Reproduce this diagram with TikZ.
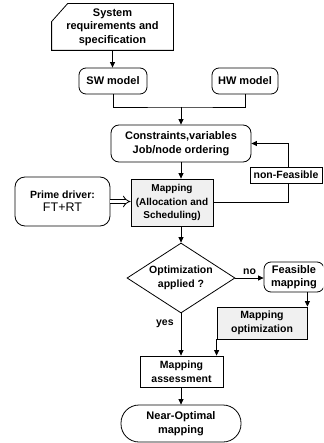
\documentclass[tikz,border=0pt]{standalone}
\usepackage{fontspec}
\setmainfont{Liberation Sans}
\usetikzlibrary{arrows.meta,shapes.geometric,calc}
\begin{document}
\begin{tikzpicture}[x=1pt,y=-1pt,
  line width=0.8pt,
  txt/.style={align=center,font=\bfseries\fontsize{11}{13.5}\selectfont,inner sep=0pt},
  stxt/.style={align=center,font=\bfseries\fontsize{10.5}{13.5}\selectfont,inner sep=0pt},
  rbox/.style={txt,draw,rounded corners=7pt},
  sbox/.style={stxt,draw},
  gbox/.style={stxt,draw,fill=gray!12},
  arr/.style={-{Triangle[length=5.5pt,width=5pt]}},
]
\useasboundingbox (0,0) rectangle (323,443);
\begin{scope}
\clip (0,0) rectangle (323,443);
% system requirements (card shape)
\node[txt,minimum width=121pt,minimum height=46pt] (sys) at (112.5,27) {System\\requirements and\\specification};
\draw (sys.north west) ++(0,18) -- ($(sys.north west)+(16,0)$) -- (sys.north east) -- (sys.south east) -- (sys.south west) -- cycle;
\node[rbox,minimum width=68pt,minimum height=26pt] (sw) at (113,81) {SW model};
\node[rbox,minimum width=66pt,minimum height=26pt] (hw) at (245,81) {HW model};
\node[rbox,rounded corners=8pt,minimum width=140pt,minimum height=37pt] (cons) at (181,143.5) {Constraints,variables\\Job/node ordering};
\node[gbox,font=\bfseries\fontsize{10}{13.5}\selectfont,minimum width=82pt,minimum height=47pt] (map) at (172,202.5) {Mapping\\(Allocation and\\Scheduling)};
\node[draw,rounded corners=10pt,align=center,inner sep=0pt,minimum width=95pt,minimum height=49pt] (prime) at (62.5,201.5)
  {{\bfseries\fontsize{10.5}{13}\selectfont Prime driver:}\\[1pt]{\fontsize{12.5}{14}\selectfont FT+RT}};
\node[diamond,draw,stxt,aspect=1.54,inner sep=0pt,minimum width=108pt,minimum height=70pt] (dec) at (181,278) {Optimization\\applied ?};
\node[rbox,minimum width=60pt,minimum height=30pt] (feas) at (294,277) {Feasible\\mapping};
\node[gbox,minimum width=90pt,minimum height=32pt] (mopt) at (262,323) {Mapping\\optimization};
\node[sbox,minimum width=83pt,minimum height=31pt] (assess) at (181.5,371.5) {Mapping\\assessment};
\node[rbox,rounded corners=18pt,minimum width=120pt,minimum height=37pt] (near) at (181,423.5) {Near-Optimal\\mapping};
% connectors
\draw[arr] (sys.south) -- (sys.south |- sw.north);
\coordinate (j) at (181,107);
\draw (sw.south) |- (j) -| (hw.south);
\draw[arr] (j) -- (cons.north);
\draw[arr] (cons.south) -- (cons.south |- map.north);
\draw[double,double distance=3.2pt,line width=0.8pt,-{Implies}] (prime.east) -- (prime.east -| map.west);
\coordinate (fbx) at (288,0);
\draw[arr] (map.east) -| (fbx |- cons.east) -- (cons.east);
\node[stxt,draw,fill=white,minimum width=72pt,minimum height=16pt] (nf) at (286,175) {non-Feasible};
\draw[arr] (dec.north |- map.south) -- (dec.north);
\draw[arr] (dec.east) -- node[stxt,above=3pt] {no} (dec.east -| feas.west);
\draw[arr] (mopt.north east |- feas.south) -- (mopt.north east);
\draw[arr] (mopt.south west) -- (mopt.south west |- assess.north);
\draw[arr] (dec.south) -- node[stxt,pos=0.25,left=7pt] {yes} (dec.south |- assess.north);
\draw[arr] (assess.south -| near.north) -- (near.north);
\end{scope}
\end{tikzpicture}
\end{document}
